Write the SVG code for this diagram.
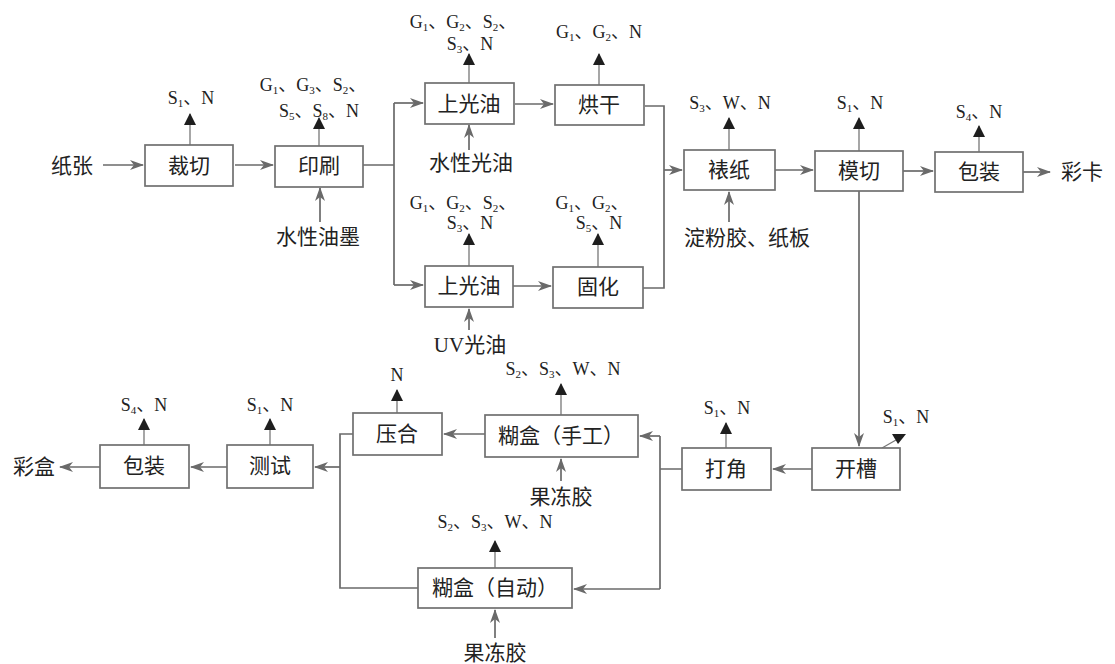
<svg xmlns="http://www.w3.org/2000/svg" width="1115" height="664" viewBox="0 0 1115 664">
<style>
.box{fill:#fff;stroke:#707070;stroke-width:1.7}
.lbl{font-family:"Liberation Serif","Noto Sans CJK SC",serif;font-size:21px;fill:#222;text-anchor:middle;dominant-baseline:central}
.em{font-family:"Liberation Serif","Noto Sans CJK SC",serif;font-size:18px;fill:#222;text-anchor:middle}
.sub{font-size:11px}
.flow{fill:none;stroke:#6a6a6a;stroke-width:1.7}
.flowa{fill:none;stroke:#6a6a6a;stroke-width:1.7;marker-end:url(#ga)}
.emit{fill:none;stroke:#777;stroke-width:1.3;marker-end:url(#ba)}
</style>
<defs>
<marker id="ga" markerUnits="userSpaceOnUse" markerWidth="14" markerHeight="10" refX="13" refY="5" orient="auto">
<path d="M0,0 L14,5 L0,10 L4,5 z" fill="#6a6a6a"/>
</marker>
<marker id="ba" markerUnits="userSpaceOnUse" markerWidth="12" markerHeight="12" refX="11" refY="6" orient="auto">
<path d="M0,0 L12,6 L0,12 z" fill="#1e1e1e"/>
</marker>
</defs>
<rect width="1115" height="664" fill="#fff"/>

<g id="connectors">
<line class="flowa" x1="103" y1="165" x2="143" y2="165"/>
<line class="flowa" x1="235" y1="165" x2="273" y2="165"/>
<path class="flow" d="M363,165 H394 M394,103 V285"/>
<line class="flowa" x1="394" y1="103" x2="423" y2="103"/>
<line class="flowa" x1="394" y1="285" x2="423" y2="285"/>
<line class="flowa" x1="515" y1="104" x2="553" y2="104"/>
<line class="flowa" x1="513" y1="286" x2="551" y2="286"/>
<path class="flow" d="M645,106 H664 V288 H643"/>
<line class="flowa" x1="664" y1="170" x2="682" y2="170"/>
<line class="flowa" x1="775" y1="170" x2="813" y2="170"/>
<line class="flowa" x1="903" y1="171" x2="933" y2="171"/>
<line class="flowa" x1="1023" y1="172" x2="1050" y2="172"/>
<line class="flowa" x1="859" y1="191" x2="859" y2="446"/>
<line class="flowa" x1="812" y1="469" x2="773" y2="469"/>
<path class="flow" d="M682,469 H660 M660,436 V589"/>
<line class="flowa" x1="660" y1="436" x2="640" y2="436"/>
<line class="flowa" x1="660" y1="589" x2="574" y2="589"/>
<line class="flowa" x1="485" y1="434" x2="444" y2="434"/>
<path class="flow" d="M353,434 H340 V588 H418"/>
<line class="flowa" x1="340" y1="467" x2="315" y2="467"/>
<line class="flowa" x1="227" y1="467" x2="191" y2="467"/>
<line class="flowa" x1="100" y1="467" x2="60" y2="467"/>
<!-- material inputs -->
<line class="flowa" x1="320" y1="222" x2="320" y2="188"/>
<line class="flowa" x1="469" y1="150" x2="469" y2="125"/>
<line class="flowa" x1="469" y1="330" x2="469" y2="309"/>
<line class="flowa" x1="729" y1="222" x2="729" y2="192"/>
<line class="flowa" x1="561" y1="481" x2="561" y2="459"/>
<line class="flowa" x1="495" y1="638" x2="495" y2="610"/>
<!-- emissions -->
<line class="emit" x1="190" y1="145" x2="190" y2="114"/>
<line class="emit" x1="319" y1="146" x2="319" y2="118"/>
<line class="emit" x1="469" y1="83" x2="469" y2="54"/>
<line class="emit" x1="599" y1="85" x2="599" y2="54"/>
<line class="emit" x1="469" y1="266" x2="469" y2="234"/>
<line class="emit" x1="598" y1="267" x2="598" y2="234"/>
<line class="emit" x1="729" y1="150" x2="729" y2="118"/>
<line class="emit" x1="859" y1="151" x2="859" y2="118"/>
<line class="emit" x1="979" y1="152" x2="979" y2="126"/>
<line class="emit" x1="726" y1="448" x2="726" y2="423"/>
<line class="emit" x1="561" y1="415" x2="561" y2="384"/>
<line class="emit" x1="397" y1="413" x2="397" y2="390"/>
<line class="emit" x1="270" y1="445" x2="270" y2="419"/>
<line class="emit" x1="144" y1="445" x2="144" y2="419"/>
<line class="emit" x1="495" y1="568" x2="495" y2="541"/>
<line x1="882" y1="448" x2="896" y2="440" stroke="#777" stroke-width="1.3"/>
<polygon points="892,434 906,434 898,444" fill="#1e1e1e"/>
</g>

<g id="n-caiqie"><rect class="box" x="145" y="145" width="88" height="41"/><text class="lbl" x="189" y="166">裁切</text></g>
<g id="n-yinshua"><rect class="box" x="275" y="146" width="88" height="41"/><text class="lbl" x="319" y="166">印刷</text></g>
<g id="n-shangguangyou1"><rect class="box" x="425" y="83" width="89" height="41"/><text class="lbl" x="469" y="104">上光油</text></g>
<g id="n-honggan"><rect class="box" x="555" y="85" width="89" height="40"/><text class="lbl" x="599" y="105">烘干</text></g>
<g id="n-shangguangyou2"><rect class="box" x="425" y="266" width="88" height="41"/><text class="lbl" x="469" y="286">上光油</text></g>
<g id="n-guhua"><rect class="box" x="553" y="267" width="90" height="41"/><text class="lbl" x="598" y="287">固化</text></g>
<g id="n-biaozhi"><rect class="box" x="684" y="150" width="91" height="40"/><text class="lbl" x="729" y="170">裱纸</text></g>
<g id="n-moqie"><rect class="box" x="815" y="151" width="88" height="40"/><text class="lbl" x="859" y="171">模切</text></g>
<g id="n-baozhuang1"><rect class="box" x="935" y="152" width="88" height="40"/><text class="lbl" x="979" y="172">包装</text></g>
<g id="n-kaicao"><rect class="box" x="812" y="448" width="88" height="42"/><text class="lbl" x="856" y="469">开槽</text></g>
<g id="n-dajiao"><rect class="box" x="682" y="448" width="89" height="42"/><text class="lbl" x="726" y="469">打角</text></g>
<g id="n-hehe-shougong"><rect class="box" x="485" y="415" width="153" height="42"/><text class="lbl" x="561" y="436">糊盒（手工）</text></g>
<g id="n-yahe"><rect class="box" x="353" y="413" width="89" height="42"/><text class="lbl" x="397" y="434">压合</text></g>
<g id="n-ceshi"><rect class="box" x="227" y="445" width="86" height="43"/><text class="lbl" x="270" y="466">测试</text></g>
<g id="n-baozhuang2"><rect class="box" x="100" y="445" width="89" height="43"/><text class="lbl" x="144" y="466">包装</text></g>
<g id="n-hehe-zidong"><rect class="box" x="418" y="568" width="154" height="40"/><text class="lbl" x="495" y="588">糊盒（自动）</text></g>

<g id="labels">
<text class="lbl" x="72" y="166">纸张</text>
<text class="lbl" x="1082" y="172">彩卡</text>
<text class="lbl" x="34" y="467">彩盒</text>
<text class="lbl" x="318" y="237">水性油墨</text>
<text class="lbl" x="471" y="163">水性光油</text>
<text class="lbl" x="470" y="345">UV光油</text>
<text class="lbl" x="747" y="238">淀粉胶、纸板</text>
<text class="lbl" x="561" y="497">果冻胶</text>
<text class="lbl" x="495" y="653">果冻胶</text>
</g>

<g id="emissions">
<text class="em" x="191" y="104">S<tspan class="sub" dy="3">1</tspan><tspan dy="-3">、N</tspan></text>
<text class="em" x="313" y="91">G<tspan class="sub" dy="3">1</tspan><tspan dy="-3">、G</tspan><tspan class="sub" dy="3">3</tspan><tspan dy="-3">、S</tspan><tspan class="sub" dy="3">2</tspan><tspan dy="-3">、</tspan></text>
<text class="em" x="319" y="117">S<tspan class="sub" dy="3">5</tspan><tspan dy="-3">、S</tspan><tspan class="sub" dy="3">8</tspan><tspan dy="-3">、N</tspan></text>
<text class="em" x="463" y="28">G<tspan class="sub" dy="3">1</tspan><tspan dy="-3">、G</tspan><tspan class="sub" dy="3">2</tspan><tspan dy="-3">、S</tspan><tspan class="sub" dy="3">2</tspan><tspan dy="-3">、</tspan></text>
<text class="em" x="470" y="50">S<tspan class="sub" dy="3">3</tspan><tspan dy="-3">、N</tspan></text>
<text class="em" x="599" y="38">G<tspan class="sub" dy="3">1</tspan><tspan dy="-3">、G</tspan><tspan class="sub" dy="3">2</tspan><tspan dy="-3">、N</tspan></text>
<text class="em" x="463" y="209">G<tspan class="sub" dy="3">1</tspan><tspan dy="-3">、G</tspan><tspan class="sub" dy="3">2</tspan><tspan dy="-3">、S</tspan><tspan class="sub" dy="3">2</tspan><tspan dy="-3">、</tspan></text>
<text class="em" x="470" y="229">S<tspan class="sub" dy="3">3</tspan><tspan dy="-3">、N</tspan></text>
<text class="em" x="592" y="209">G<tspan class="sub" dy="3">1</tspan><tspan dy="-3">、G</tspan><tspan class="sub" dy="3">2</tspan><tspan dy="-3">、</tspan></text>
<text class="em" x="599" y="229">S<tspan class="sub" dy="3">5</tspan><tspan dy="-3">、N</tspan></text>
<text class="em" x="730" y="109">S<tspan class="sub" dy="3">3</tspan><tspan dy="-3">、W、N</tspan></text>
<text class="em" x="860" y="109">S<tspan class="sub" dy="3">1</tspan><tspan dy="-3">、N</tspan></text>
<text class="em" x="979" y="118">S<tspan class="sub" dy="3">4</tspan><tspan dy="-3">、N</tspan></text>
<text class="em" x="906" y="423">S<tspan class="sub" dy="3">1</tspan><tspan dy="-3">、N</tspan></text>
<text class="em" x="727" y="414">S<tspan class="sub" dy="3">1</tspan><tspan dy="-3">、N</tspan></text>
<text class="em" x="563" y="375">S<tspan class="sub" dy="3">2</tspan><tspan dy="-3">、S</tspan><tspan class="sub" dy="3">3</tspan><tspan dy="-3">、W、N</tspan></text>
<text class="em" x="397" y="381">N</text>
<text class="em" x="270" y="411">S<tspan class="sub" dy="3">1</tspan><tspan dy="-3">、N</tspan></text>
<text class="em" x="144" y="411">S<tspan class="sub" dy="3">4</tspan><tspan dy="-3">、N</tspan></text>
<text class="em" x="495" y="528">S<tspan class="sub" dy="3">2</tspan><tspan dy="-3">、S</tspan><tspan class="sub" dy="3">3</tspan><tspan dy="-3">、W、N</tspan></text>
</g>
</svg>
